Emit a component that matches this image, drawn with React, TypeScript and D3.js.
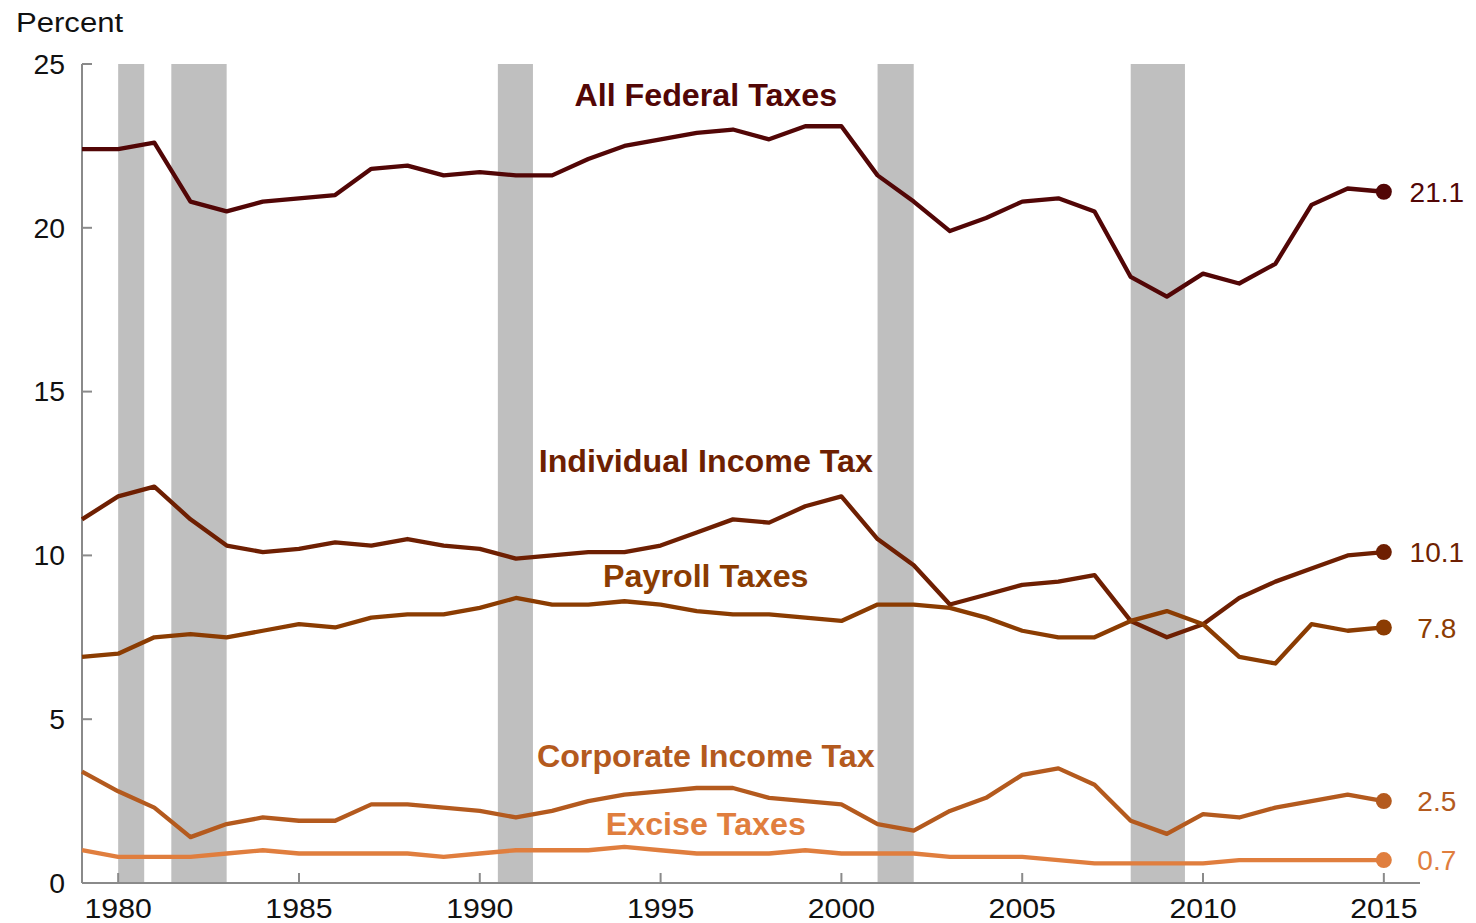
import { useEffect, useRef } from "react";
import * as d3 from "d3";

const WIDTH = 1476;
const HEIGHT = 923;
const MARGIN = { top: 64, right: 56, bottom: 40, left: 82 };
const FONT = "'Liberation Sans', Arial, sans-serif";

const years = d3.range(1979, 2016);

const allFederal = [
  22.4, 22.4, 22.6, 20.8, 20.5, 20.8, 20.9, 21.0, 21.8, 21.9, 21.6, 21.7, 21.6,
  21.6, 22.1, 22.5, 22.7, 22.9, 23.0, 22.7, 23.1, 23.1, 21.6, 20.8, 19.9, 20.3,
  20.8, 20.9, 20.5, 18.5, 17.9, 18.6, 18.3, 18.9, 20.7, 21.2, 21.1,
];
const individualIncome = [
  11.1, 11.8, 12.1, 11.1, 10.3, 10.1, 10.2, 10.4, 10.3, 10.5, 10.3, 10.2, 9.9,
  10.0, 10.1, 10.1, 10.3, 10.7, 11.1, 11.0, 11.5, 11.8, 10.5, 9.7, 8.5, 8.8,
  9.1, 9.2, 9.4, 8.0, 7.5, 7.9, 8.7, 9.2, 9.6, 10.0, 10.1,
];
const payroll = [
  6.9, 7.0, 7.5, 7.6, 7.5, 7.7, 7.9, 7.8, 8.1, 8.2, 8.2, 8.4, 8.7, 8.5, 8.5,
  8.6, 8.5, 8.3, 8.2, 8.2, 8.1, 8.0, 8.5, 8.5, 8.4, 8.1, 7.7, 7.5, 7.5, 8.0,
  8.3, 7.9, 6.9, 6.7, 7.9, 7.7, 7.8,
];
const corporate = [
  3.4, 2.8, 2.3, 1.4, 1.8, 2.0, 1.9, 1.9, 2.4, 2.4, 2.3, 2.2, 2.0, 2.2, 2.5,
  2.7, 2.8, 2.9, 2.9, 2.6, 2.5, 2.4, 1.8, 1.6, 2.2, 2.6, 3.3, 3.5, 3.0, 1.9,
  1.5, 2.1, 2.0, 2.3, 2.5, 2.7, 2.5,
];
const excise = [
  1.0, 0.8, 0.8, 0.8, 0.9, 1.0, 0.9, 0.9, 0.9, 0.9, 0.8, 0.9, 1.0, 1.0, 1.0,
  1.1, 1.0, 0.9, 0.9, 0.9, 1.0, 0.9, 0.9, 0.9, 0.8, 0.8, 0.8, 0.7, 0.6, 0.6,
  0.6, 0.6, 0.7, 0.7, 0.7, 0.7, 0.7,
];

// recession shading, start/end in fractional years
const recessions: [number, number][] = [
  [1980.0, 1980.72],
  [1981.47, 1983.0],
  [1990.5, 1991.47],
  [2001.0, 2002.0],
  [2008.0, 2009.5],
];

const yTicks = [0, 5, 10, 15, 20, 25];
const xTicks = [1980, 1985, 1990, 1995, 2000, 2005, 2010, 2015];

type Series = {
  name: string;
  values: number[];
  color: string;
  labelY: number; // label baseline in data units
};

const series: Series[] = [
  { name: "All Federal Taxes", values: allFederal, color: "#520606", labelY: 23.72 },
  { name: "Individual Income Tax", values: individualIncome, color: "#6e1f02", labelY: 12.55 },
  { name: "Payroll Taxes", values: payroll, color: "#8b3c02", labelY: 9.04 },
  { name: "Corporate Income Tax", values: corporate, color: "#b45a1e", labelY: 3.54 },
  { name: "Excise Taxes", values: excise, color: "#e07e3e", labelY: 1.47 },
];
const LABEL_YEAR = 1996.25;

// the source type is a little wider than the font, so stretch it horizontally
const stretch = (px: number, py: number, sx: number) =>
  `translate(${px},${py}) scale(${sx},1)`;

export default function App() {
  const svgRef = useRef<SVGSVGElement>(null);

  useEffect(() => {
    const svgElement = svgRef.current;
    if (!svgElement) return;

    const svg = d3.select(svgElement);
    svg.selectAll("*").remove();

    const x = d3
      .scaleLinear()
      .domain([1979, 2016])
      .range([MARGIN.left, WIDTH - MARGIN.right]);
    const y = d3
      .scaleLinear()
      .domain([0, 25])
      .range([HEIGHT - MARGIN.bottom, MARGIN.top]);

    svg
      .append("g")
      .selectAll("rect")
      .data(recessions)
      .join("rect")
      .attr("x", (d) => x(d[0]))
      .attr("y", y(25))
      .attr("width", (d) => x(d[1]) - x(d[0]))
      .attr("height", y(0) - y(25))
      .attr("fill", "#bfbfbf");

    // axes
    const axisColor = "#8a8a8a";
    const axes = svg.append("g").attr("stroke", axisColor).attr("stroke-width", 2);
    axes
      .append("line")
      .attr("x1", x(1979))
      .attr("x2", x(1979))
      .attr("y1", y(25))
      .attr("y2", y(0));
    axes
      .append("line")
      .attr("x1", x(1979))
      .attr("x2", x(2016))
      .attr("y1", y(0))
      .attr("y2", y(0));
    axes
      .selectAll("line.ytick")
      .data(yTicks)
      .join("line")
      .attr("class", "ytick")
      .attr("x1", x(1979))
      .attr("x2", x(1979) + 10)
      .attr("y1", (d) => y(d))
      .attr("y2", (d) => y(d));
    axes
      .selectAll("line.xtick")
      .data(xTicks)
      .join("line")
      .attr("class", "xtick")
      .attr("x1", (d) => x(d))
      .attr("x2", (d) => x(d))
      .attr("y1", y(0))
      .attr("y2", y(0) - 10);

    svg
      .append("g")
      .selectAll("text")
      .data(yTicks)
      .join("text")
      .attr("transform", (d) => stretch(x(1979) - 17, y(d), 1.05))
      .attr("dy", "0.36em")
      .attr("text-anchor", "end")
      .attr("font-family", FONT)
      .attr("font-size", 27)
      .attr("fill", "#111")
      .text((d) => d);

    svg
      .append("g")
      .selectAll("text")
      .data(xTicks)
      .join("text")
      .attr("transform", (d) => stretch(x(d), y(0) + 35, 1.1))
      .attr("text-anchor", "middle")
      .attr("font-family", FONT)
      .attr("font-size", 27.5)
      .attr("fill", "#111")
      .text((d) => d);

    svg
      .append("text")
      .attr("transform", stretch(16, 32, 1.11))
      .attr("font-family", FONT)
      .attr("font-size", 28)
      .attr("fill", "#111")
      .text("Percent");

    // lines, end dots and labels
    const line = d3
      .line<number>()
      .x((_, i) => x(years[i]))
      .y((d) => y(d));

    const last = years.length - 1;
    series.forEach((s) => {
      svg
        .append("path")
        .datum(s.values)
        .attr("d", line)
        .attr("fill", "none")
        .attr("stroke", s.color)
        .attr("stroke-width", 4.3)
        .attr("stroke-linejoin", "round");

      svg
        .append("circle")
        .attr("cx", x(years[last]))
        .attr("cy", y(s.values[last]))
        .attr("r", 8)
        .attr("fill", s.color);

      svg
        .append("text")
        .attr("x", x(years[last]) + 53)
        .attr("y", y(s.values[last]))
        .attr("dy", "0.36em")
        .attr("text-anchor", "middle")
        .attr("font-family", FONT)
        .attr("font-size", 28)
        .attr("fill", s.color)
        .text(s.values[last].toFixed(1));

      svg
        .append("text")
        .attr("transform", stretch(x(LABEL_YEAR), y(s.labelY), 1.04))
        .attr("text-anchor", "middle")
        .attr("font-family", FONT)
        .attr("font-size", 31)
        .attr("font-weight", "bold")
        .attr("fill", s.color)
        .text(s.name);
    });
  }, []);

  return (
    <svg
      ref={svgRef}
      width={WIDTH}
      height={HEIGHT}
      style={{ position: "absolute", left: 0, top: 0, background: "#fff" }}
      role="img"
      aria-label="Federal taxes as a percent of GDP, 1979 to 2015"
    />
  );
}
